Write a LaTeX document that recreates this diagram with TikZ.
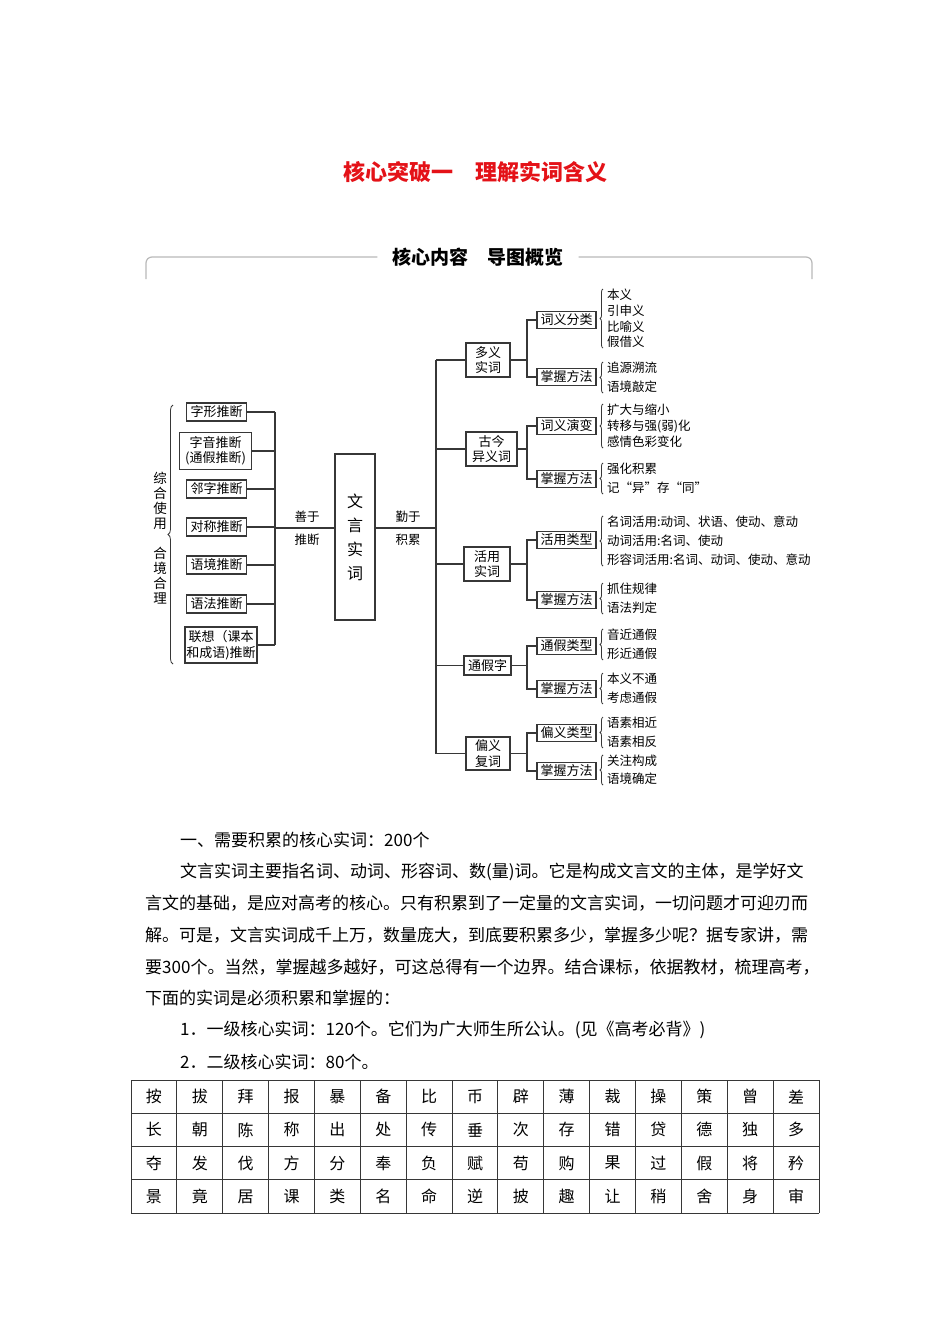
\documentclass[tikz,border=0pt]{standalone}
\usepackage{fontspec}
\setmainfont{Noto Sans CJK SC}
\usepackage{xcolor}
\usetikzlibrary{decorations.pathreplacing}
\XeTeXlinebreaklocale "zh"
\XeTeXlinebreakskip=0pt plus 2pt
\definecolor{titlered}{RGB}{228,18,24}
\definecolor{lin}{RGB}{55,55,55}
\tikzset{
  kbox/.style={draw=lin, line width=1.2pt, inner sep=1pt, align=center, font=\fontsize{13}{15.5}\selectfont},
  lbox/.style={kbox, minimum width=60pt, minimum height=18pt},
  subbox/.style={kbox, minimum width=59pt, minimum height=17pt},
  item/.style={anchor=west, inner sep=0pt, font=\fontsize{12.5}{14}\selectfont},
  link/.style={draw=lin, line width=1.2pt},
  brc/.style={draw=lin, line width=0.8pt, decorate, decoration={brace, amplitude=3pt}},
  body/.style={anchor=west, inner sep=0pt, font=\fontsize{17}{20}\selectfont},
  tline/.style={draw=lin, line width=1pt},
  cell/.style={inner sep=0pt, font=\fontsize{16}{18}\selectfont}
}
\begin{document}
\begin{tikzpicture}[x=1pt,y=-1pt]
\useasboundingbox[fill=white] (0,0) rectangle (950,1344);
\node[text=titlered, font=\fontsize{22}{24}\selectfont\bfseries] (title) at (475,172) {核心突破一　理解实词含义};
\node[font=\fontsize{19}{21}\selectfont\bfseries, inner xsep=15pt] (hd) at (478,257) {核心内容　导图概览};
\coordinate (fl) at (146,279);
\coordinate (fr) at (812,279);
\draw[gray!55, line width=1.2pt, rounded corners=6pt] (hd.west) -- (hd.west -| fl) -- (fl);
\draw[gray!55, line width=1.2pt, rounded corners=6pt] (hd.east) -- (hd.east -| fr) -- (fr);

\node[lbox] (zx) at (216.5,412) {字形推断};
\node[kbox, minimum width=72pt, minimum height=37pt] (zy) at (215.5,451) {字音推断\\(通假推断)};
\node[lbox] (lz) at (216.5,489) {邻字推断};
\node[lbox] (dc) at (216.5,527) {对称推断};
\node[lbox] (yj) at (216.5,565) {语境推断};
\node[lbox] (yf) at (216.5,604) {语法推断};
\node[kbox, minimum width=72pt, minimum height=36pt] (lx) at (221,645) {联想（课本\\和成语)推断};
\draw[brc, decoration={amplitude=5pt}] (173,664) -- (173,405);
\node[font=\fontsize{13.5}{15}\selectfont, align=center, inner sep=0pt] (zh1) at (160,500.5) {综\\合\\使\\用};
\node[font=\fontsize{13.5}{15}\selectfont, align=center, inner sep=0pt] (zh2) at (160,575.5) {合\\境\\合\\理};

\node[kbox, minimum width=40pt, minimum height=166pt, font=\fontsize{16}{24}\selectfont] (wy) at (355,537) {文\\言\\实\\词};
\coordinate (lb) at (275,528);
\coordinate (rb) at (436,528);
\foreach \n in {zx,zy,lz,dc,yj,yf,lx}
  \draw[link] (\n.east) -- (\n.east -| lb);
\draw[link] (zx.east -| lb) -- (lx.east -| lb);
\draw[link] (lb) -- (lb -| wy.west);
\draw[link] (wy.east |- rb) -- (rb);
\node[font=\fontsize{12.5}{23}\selectfont, align=center, inner sep=0pt] (sy) at (307,528.5) {善于\\推断};
\node[font=\fontsize{12.5}{23}\selectfont, align=center, inner sep=0pt] (qy) at (408,528.5) {勤于\\积累};

\node[kbox, minimum width=44pt, minimum height=34pt] (dy) at (488,360) {多义\\实词};
\node[kbox, minimum width=51pt, minimum height=34pt] (gj) at (491.5,449) {古今\\异义词};
\node[kbox, minimum width=46pt, minimum height=34pt] (hy) at (487,564) {活用\\实词};
\node[kbox, minimum width=47pt, minimum height=19pt] (tj) at (487.5,665.5) {通假字};
\node[kbox, minimum width=44pt, minimum height=33pt] (py) at (488,753.5) {偏义\\复词};
\draw[link] (dy.west -| rb) -- (py.west -| rb);
\foreach \n in {dy,gj,hy,tj,py}
  \draw[link] (\n.west -| rb) -- (\n.west);

\coordinate (sb) at (527,0);
\foreach \m/\la/\ya/\yb in {dy/词义分类/320/377, gj/词义演变/426/479, hy/活用类型/540/600, tj/通假类型/646/689, py/偏义类型/733/771}{
  \node[subbox] (\m-a) at (566.5,\ya) {\la};
  \node[subbox] (\m-b) at (566.5,\yb) {掌握方法};
  \draw[link] (\m-a.west) -- (\m-a.west -| sb) -- (\m-b.west -| sb) -- (\m-b.west);
  \draw[link] (\m.east) -- (\m.east -| sb);
}

\foreach \t [count=\k] in {本义,引申义,比喻义,假借义}
  \node[item] (dy-a\k) at (607,{295+15.7*(\k-1)}) {\t};
\draw[brc] ([xshift=-4pt]dy-a4.south west) -- ([xshift=-4pt]dy-a1.north west);
\foreach \t [count=\k] in {追源溯流,语境敲定}
  \node[item] (dy-b\k) at (607,{368+19*(\k-1)}) {\t};
\draw[brc] ([xshift=-4pt]dy-b2.south west) -- ([xshift=-4pt]dy-b1.north west);
\foreach \t [count=\k] in {扩大与缩小,转移与强(弱)化,感情色彩变化}
  \node[item] (gj-a\k) at (607,{410+16*(\k-1)}) {\t};
\draw[brc] ([xshift=-4pt]gj-a3.south west) -- ([xshift=-4pt]gj-a1.north west);
\foreach \t [count=\k] in {强化积累,记“异”存“同”}
  \node[item] (gj-b\k) at (607,{469+19*(\k-1)}) {\t};
\draw[brc] ([xshift=-4pt]gj-b2.south west) -- ([xshift=-4pt]gj-b1.north west);
\foreach \t [count=\k] in {名词活用:动词、状语、使动、意动,动词活用:名词、使动,形容词活用:名词、动词、使动、意动}
  \node[item] (hy-a\k) at (607,{522+19*(\k-1)}) {\t};
\draw[brc] ([xshift=-4pt]hy-a3.south west) -- ([xshift=-4pt]hy-a1.north west);
\foreach \t [count=\k] in {抓住规律,语法判定}
  \node[item] (hy-b\k) at (607,{589+19*(\k-1)}) {\t};
\draw[brc] ([xshift=-4pt]hy-b2.south west) -- ([xshift=-4pt]hy-b1.north west);
\foreach \t [count=\k] in {音近通假,形近通假}
  \node[item] (tj-a\k) at (607,{635+19*(\k-1)}) {\t};
\draw[brc] ([xshift=-4pt]tj-a2.south west) -- ([xshift=-4pt]tj-a1.north west);
\foreach \t [count=\k] in {本义不通,考虑通假}
  \node[item] (tj-b\k) at (607,{679+19*(\k-1)}) {\t};
\draw[brc] ([xshift=-4pt]tj-b2.south west) -- ([xshift=-4pt]tj-b1.north west);
\foreach \t [count=\k] in {语素相近,语素相反}
  \node[item] (py-a\k) at (607,{723+19*(\k-1)}) {\t};
\draw[brc] ([xshift=-4pt]py-a2.south west) -- ([xshift=-4pt]py-a1.north west);
\foreach \t [count=\k] in {关注构成,语境确定}
  \node[item] (py-b\k) at (607,{761+18*(\k-1)}) {\t};
\draw[brc] ([xshift=-4pt]py-b2.south west) -- ([xshift=-4pt]py-b1.north west);

\node[body] (p1) at (180,840) {一、需要积累的核心实词：200个};
\node[body] (p2) at (180,872) {\makebox[626pt][s]{文言实词主要指名词、动词、形容词、数(量)词。它是构成文言文的主体，是学好文}};
\node[body] (p3) at (145,903) {\makebox[661pt][s]{言文的基础，是应对高考的核心。只有积累到了一定量的文言实词，一切问题才可迎刃而}};
\node[body] (p4) at (145,935) {\makebox[661pt][s]{解。可是，文言实词成千上万，数量庞大，到底要积累多少，掌握多少呢？据专家讲，需}};
\node[body] (p5) at (145,967) {\makebox[667pt][s]{要300个。当然，掌握越多越好，可这总得有一个边界。结合课标，依据教材，梳理高考，}};
\node[body] (p6) at (145,998) {下面的实词是必须积累和掌握的：};
\node[body] (p7) at (180,1030) {1．一级核心实词：120个。它们为广大师生所公认。(见《高考必背》)};
\node[body] (p8) at (180,1062) {2．二级核心实词：80个。};

\foreach \i in {0,...,15}
  \draw[tline] ({131+45.867*\i},1080) -- ({131+45.867*\i},1213);
\foreach \j in {0,...,4}
  \draw[tline] (131,{1080+33.25*\j}) -- (819,{1080+33.25*\j});
\foreach \rw [count=\rj] in {{按,拔,拜,报,暴,备,比,币,辟,薄,裁,操,策,曾,差},{长,朝,陈,称,出,处,传,垂,次,存,错,贷,德,独,多},{夺,发,伐,方,分,奉,负,赋,苟,购,果,过,假,将,矜},{景,竟,居,课,类,名,命,逆,披,趣,让,稍,舍,身,审}}
  \foreach \cl [count=\ci] in \rw
    \node[cell] (c\rj-\ci) at ({131+45.867*(\ci-0.5)},{1080+33.25*(\rj-0.5)}) {\cl};
\end{tikzpicture}
\end{document}
